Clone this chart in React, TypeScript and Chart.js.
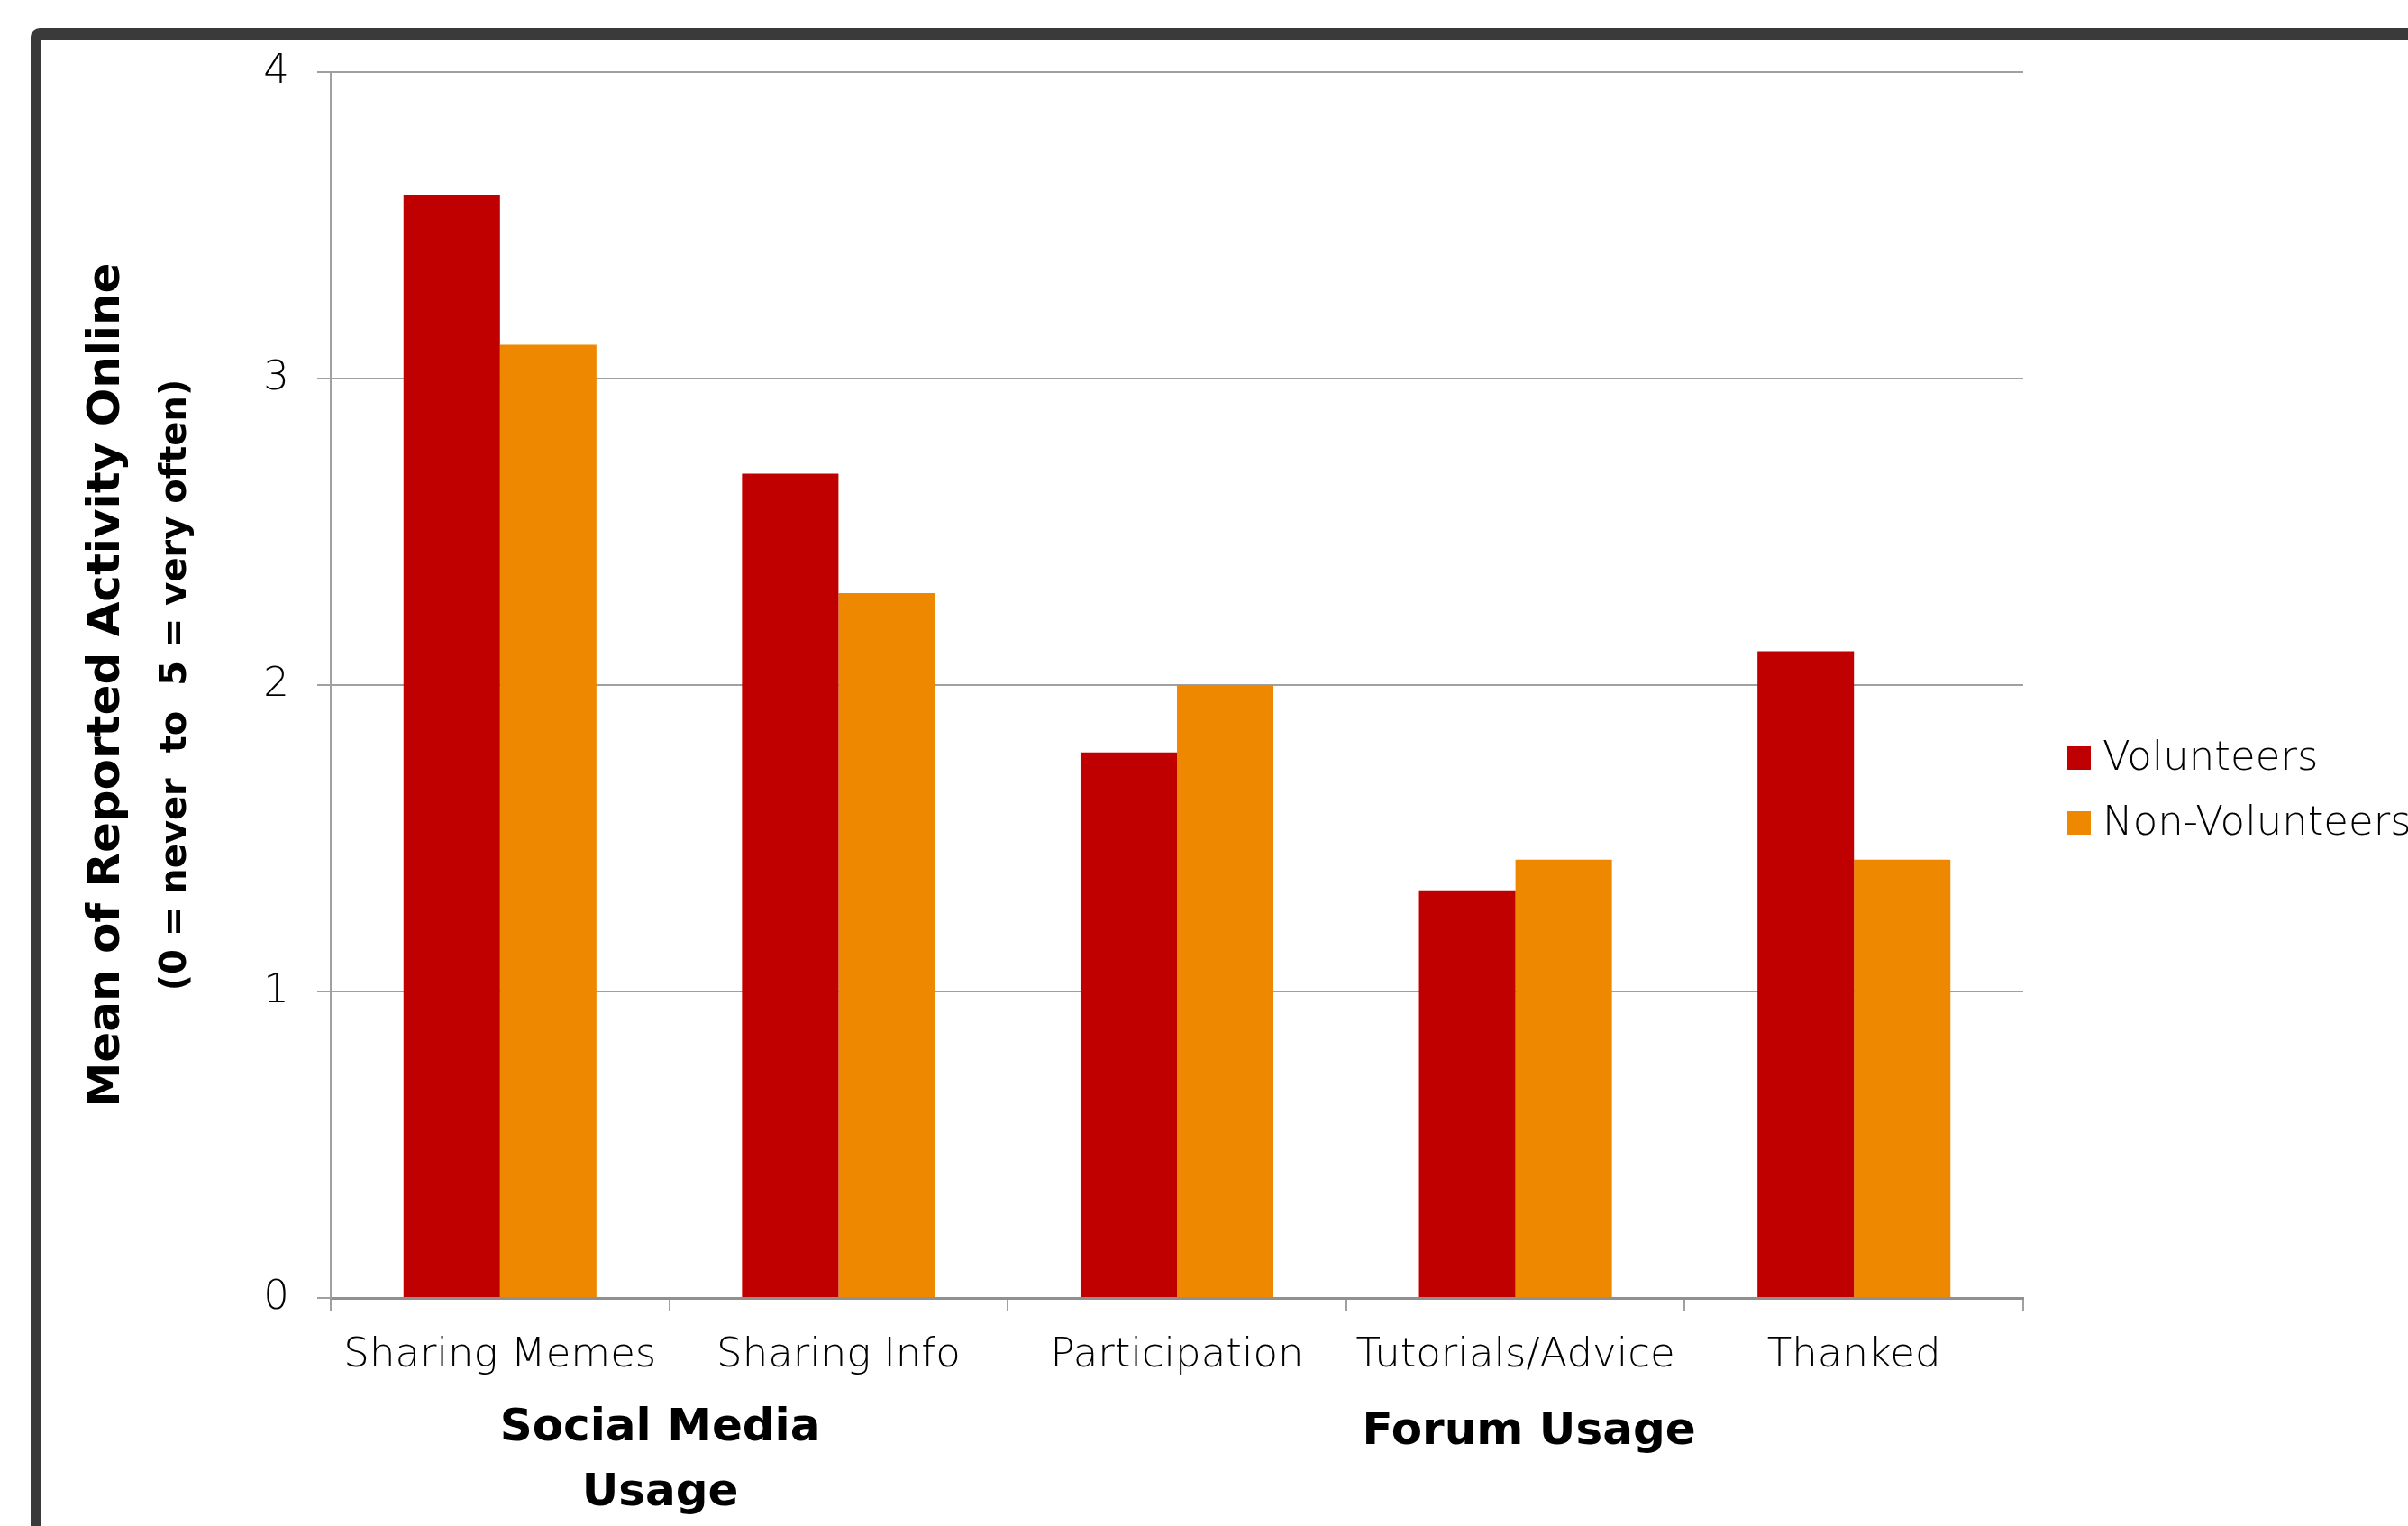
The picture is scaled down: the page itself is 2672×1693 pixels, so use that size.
import { useEffect, useRef } from "react";
import { Chart, registerables } from "chart.js";
Chart.register(...registerables);

const categories = ["Sharing Memes", "Sharing Info", "Participation", "Tutorials/Advice", "Thanked"];
const volunteers = [3.6, 2.69, 1.78, 1.33, 2.11];
const nonVolunteers = [3.11, 2.3, 2.0, 1.43, 1.43];
const seriesNames = ["Volunteers", "Non-Volunteers"];
const seriesColors = ["#C00000", "#EE8800"];
const yTicks = [0, 1, 2, 3, 4];
const yTitle = "Mean of Reported Activity Online";
const ySubtitle = "(0 = never  to  5 = very often)";
const groupLines = [["Social Media", "Usage"], ["Forum Usage"]];
const groupFrom = [0, 2];
const groupTo = [1, 4];

const FONT = "'DejaVu Sans'";

const extraText = {
  id: "extraText",
  afterDraw(chart: any) {
    const ctx = chart.ctx as CanvasRenderingContext2D;
    const area = chart.chartArea;
    const xs = chart.scales.x;
    ctx.save();
    ctx.fillStyle = "#000";
    // y-axis titles
    const cy = (area.top + area.bottom) / 2;
    ctx.textAlign = "center";
    ctx.textBaseline = "alphabetic";
    ctx.save();
    ctx.translate(132, cy);
    ctx.rotate(-Math.PI / 2);
    ctx.font = `bold 50px ${FONT}`;
    ctx.fillText(yTitle, 0, 0);
    ctx.restore();
    ctx.save();
    ctx.translate(206, cy);
    ctx.rotate(-Math.PI / 2);
    ctx.font = `bold 40px ${FONT}`;
    ctx.fillText(ySubtitle, 0, 0);
    ctx.restore();

    // group labels
    ctx.font = `bold 50px ${FONT}`;
    groupLines.forEach((lines, gi) => {
      const a = xs.getPixelForValue(groupFrom[gi]);
      const b = xs.getPixelForValue(groupTo[gi]);
      const cx = (a + b) / 2 + (gi === 0 ? -10 : 15);
      lines.forEach((t, li) => {
        ctx.fillText(t, cx, (gi === 0 ? 1598 : 1602) + li * 72);
      });
    });

    // legend
    ctx.textAlign = "left";
    ctx.textBaseline = "middle";
    ctx.font = `300 45px ${FONT}`;
    chart.data.datasets.forEach((ds: any, i: number) => {
      const top = 828 + i * 72;
      ctx.fillStyle = ds.backgroundColor;
      ctx.fillRect(2294, top, 26, 26);
      ctx.fillStyle = "#000";
      ctx.fillText(ds.label, 2333, top + 14);
    });
    ctx.restore();
  },
};

export default function App() {
  const ref = useRef<HTMLCanvasElement>(null);
  useEffect(() => {
    if (!ref.current) return;
    const chart = new Chart(ref.current, {
      type: "bar",
      data: {
        labels: categories,
        datasets: [
          { label: seriesNames[0], data: volunteers, backgroundColor: seriesColors[0], barPercentage: 1, categoryPercentage: 0.57 },
          { label: seriesNames[1], data: nonVolunteers, backgroundColor: seriesColors[1], barPercentage: 1, categoryPercentage: 0.57 },
        ],
      },
      options: {
        responsive: false,
        animation: false,
        layout: { padding: { left: 0, top: 80, right: 427, bottom: 0 }, autoPadding: false },
        plugins: { legend: { display: false }, tooltip: { enabled: false } },
        scales: {
          x: {
            grid: { offset: true, drawOnChartArea: false, drawTicks: true, tickLength: 15, color: "#a0a0a0", lineWidth: 2 },
            border: { color: "#909090", width: 3 },
            ticks: { font: { family: FONT, size: 45, weight: 300 }, color: "#000", padding: 22, maxRotation: 0, autoSkip: false },
            afterFit: (s: any) => { s.height = 1693 - 1440; },
          },
          y: {
            min: 0,
            max: 4,
            afterBuildTicks: (s: any) => { s.ticks = yTicks.map((v) => ({ value: v })); },
            grid: { color: "#a0a0a0", lineWidth: 2, tickLength: 15 },
            border: { color: "#a0a0a0", width: 2 },
            ticks: { font: { family: FONT, size: 45, weight: 300 }, color: "#000", padding: 31 },
            afterFit: (s: any) => { s.width = 367; },
          },
        },
      },
      plugins: [extraText],
    } as any);
    return () => chart.destroy();
  }, []);
  return (
    <div style={{ position: "fixed", left: 0, top: 0, width: 2672, height: 1693, overflow: "hidden", background: "#fff" }}>
      <div style={{ position: "absolute", left: 34, top: 31, width: 4000, height: 4000, borderStyle: "solid", borderColor: "#3a3a3a", borderWidth: "13px 12px", borderRadius: 10, boxSizing: "border-box" }} />
      <canvas ref={ref} width={2672} height={1693} style={{ position: "absolute", left: 0, top: 0, width: 2672, height: 1693 }} />
    </div>
  );
}
